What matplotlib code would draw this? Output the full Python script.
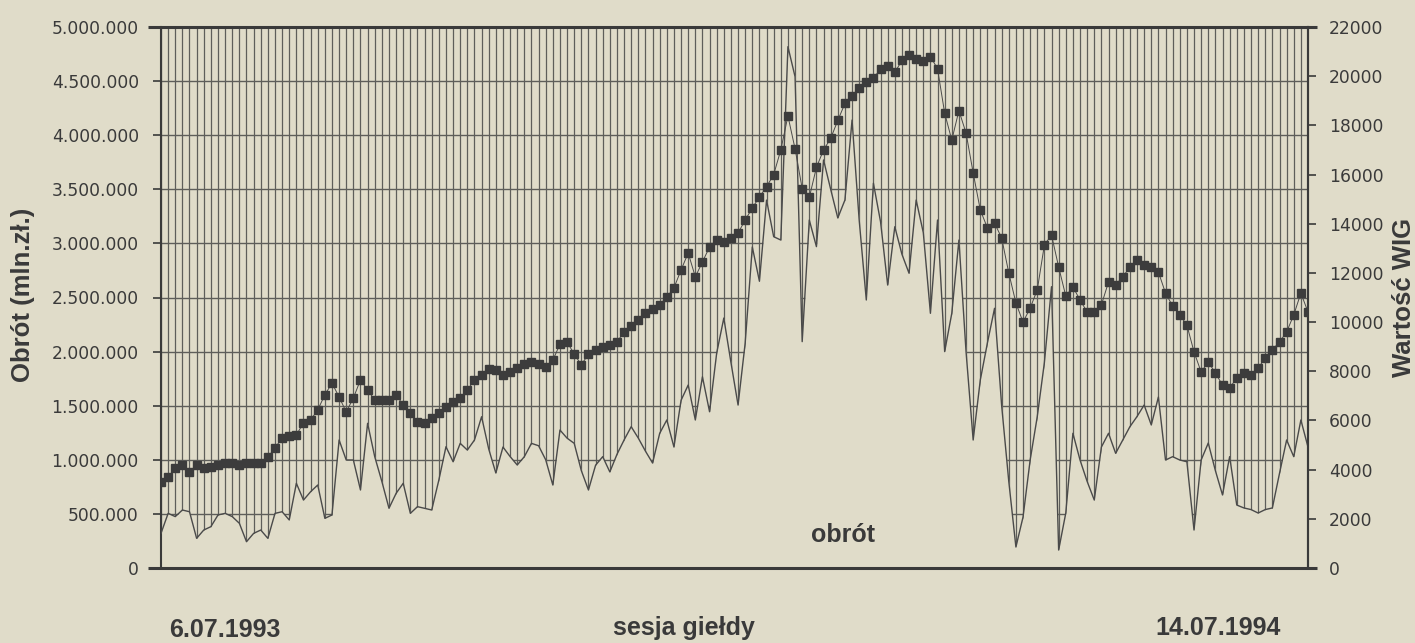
import numpy as np
import matplotlib
matplotlib.use("Agg")
import matplotlib.pyplot as plt

# ---- data ----
wig = [
    3500, 3700, 4070, 4190, 3900, 4190, 4070, 4100, 4190, 4270,
    4270, 4190, 4270, 4270, 4270, 4510, 4880, 5290, 5370, 5410,
    5900, 6020, 6430, 7040, 7520, 6950, 6350, 6910, 7650, 7240,
    6830, 6830, 6830, 7040, 6630, 6300, 5940, 5900, 6100, 6300,
    6550, 6750, 6910, 7240, 7650, 7850, 8100, 8050, 7850, 7970,
    8130, 8300, 8380, 8300, 8180, 8450, 9100, 9190, 8700, 8260,
    8700, 8870, 8990, 9070, 9190, 9600, 9850, 10100, 10370, 10550,
    10700, 11020, 11390, 12120, 12810, 11840, 12450, 13055, 13340, 13260,
    13420, 13620, 14150, 14640, 15090, 15500, 16000, 17000, 18380, 17050,
    15430, 15070, 16290, 17000, 17470, 18200, 18890, 19180, 19500, 19750,
    19910, 20300, 20400, 20150, 20640, 20860, 20680, 20620, 20800, 20300,
    18500, 17400, 18600, 17690, 16070, 14560, 13830, 14030, 13420, 12000,
    10780, 10000, 10570, 11310, 13140, 13540, 12240, 11060, 11430, 10900,
    10410, 10410, 10700, 11630, 11510, 11840, 12240, 12530, 12320, 12240,
    12040, 11180, 10650, 10290, 9880, 8790, 7970, 8380, 7930, 7440,
    7320, 7730, 7930, 7850, 8130, 8540, 8870, 9190, 9600, 10290,
    11180, 10410,
]

obrot_tys = [
    320, 505, 475, 536, 520, 274, 351, 382, 490, 505,
    475, 413, 243, 320, 351, 274, 505, 520, 444, 783,
    628, 705, 767, 459, 490, 1183, 998, 998, 721, 1337,
    1029, 800, 552, 690, 783, 505, 567, 552, 536, 813,
    1121, 982, 1152, 1090, 1183, 1398, 1100, 878, 1118, 1030,
    952, 1029, 1152, 1130, 1000, 767, 1275, 1200, 1152, 900,
    721, 950, 1029, 888, 1050, 1183, 1306, 1200, 1080, 970,
    1245, 1368, 1118, 1550, 1691, 1368, 1767, 1444, 1987, 2310,
    1900, 1506, 2080, 2967, 2650, 3400, 3062, 3031, 4818, 4541,
    2092, 3216, 2970, 3771, 3500, 3235, 3401, 4140, 3216, 2477,
    3556, 3200, 2615, 3154, 2900, 2724, 3401, 3100, 2354, 3216,
    2000, 2354, 3031, 2000, 1183, 1737, 2080, 2400, 1500, 800,
    194, 471, 998, 1400, 1900, 2600, 166, 508, 1245, 998,
    800, 628, 1118, 1245, 1060, 1183, 1306, 1400, 1506, 1322,
    1580, 998, 1029, 998, 982, 351, 998, 1155, 900, 675,
    1029, 582, 555, 540, 508, 540, 555, 875, 1183, 1029,
    1368, 1118,
]
obrot = [v * 1000 for v in obrot_tys]  # mln zł

left_ticks = [0, 500000, 1000000, 1500000, 2000000, 2500000, 3000000,
              3500000, 4000000, 4500000, 5000000]
left_labels = ["0", "500.000", "1.000.000", "1.500.000", "2.000.000", "2.500.000",
               "3.000.000", "3.500.000", "4.000.000", "4.500.000", "5.000.000"]
right_ticks = list(range(0, 22001, 2000))
right_labels = [str(t) for t in right_ticks]

# ---- style ----
bg = "#e0dcc9"
ink = "#3a3a3a"
grid_c = "#5e5e5a"
sq_c = "#3c3c3c"

fig = plt.figure(figsize=(14.15, 6.43), dpi=100, facecolor=bg)
L, R, B, T = 161 / 1415, 1308 / 1415, 1 - 568 / 643, 1 - 27 / 643
ax = fig.add_axes([L, B, R - L, T - B])
ax.set_facecolor(bg)

n = len(wig)
x = np.arange(n)
ax.set_xlim(0, n - 1)
ax.set_ylim(0, 5000000)

ax.vlines(x, 0, 5000000, colors=grid_c, lw=0.9, zorder=1)
ax.hlines(left_ticks[1:], 0, n - 1, colors=grid_c, lw=1.0, zorder=1)
ax.fill_between(x, 0, obrot, color=bg, lw=0, zorder=2)
ax.plot(x, obrot, color="#4a4a4a", lw=1.0, zorder=3)

ax.set_xticks([])
ax.set_yticks(left_ticks)
ax.set_yticklabels(left_labels, family="DejaVu Sans", fontsize=12.3, color=ink)
ax.tick_params(axis="y", direction="out", length=6, width=1.2, color=ink, pad=10)

for s in ["left", "right"]:
    ax.spines[s].set_linewidth(1.5)
    ax.spines[s].set_color(ink)
for s in ["top", "bottom"]:
    ax.spines[s].set_visible(False)

# extended top / bottom frame lines
x0, x1 = (148 - 161) / 1147, (1317 - 161) / 1147
ax.plot([x0, x1], [0, 0], transform=ax.transAxes, color=ink, lw=2.2,
        clip_on=False, zorder=6, solid_capstyle="butt")
ax.plot([x0, x1], [1, 1], transform=ax.transAxes, color=ink, lw=2.2,
        clip_on=False, zorder=6, solid_capstyle="butt")

ax2 = ax.twinx()
ax2.set_ylim(0, 22000)
ax2.plot(x, wig, color="#4a4a4a", lw=0.7, marker="s", ms=6.2,
         mfc=sq_c, mec=sq_c, zorder=5)
ax2.set_yticks(right_ticks)
ax2.set_yticklabels(right_labels, family="DejaVu Sans", fontsize=12.3, color=ink)
ax2.tick_params(axis="y", direction="out", length=6, width=1.2, color=ink, pad=9)
for s in ["top", "bottom", "left"]:
    ax2.spines[s].set_visible(False)
ax2.spines["right"].set_linewidth(1.5)
ax2.spines["right"].set_color(ink)

bold = dict(family="Liberation Sans", fontweight="bold", color=ink)
fig.text(23 / 1415, 1 - 295 / 643, "Obrót (mln.zł.)", rotation=90,
         ha="center", va="center", fontsize=18.5, **bold)
fig.text(1404 / 1415, 1 - 297 / 643, "Wartość WIG", rotation=90,
         ha="center", va="center", fontsize=18.5, **bold)
fig.text(225 / 1415, 1 - 630 / 643, "6.07.1993", ha="center", va="center",
         fontsize=18, **bold)
fig.text(684 / 1415, 1 - 628 / 643, "sesja giełdy", ha="center", va="center",
         fontsize=18, **bold)
fig.text(1218 / 1415, 1 - 628 / 643, "14.07.1994", ha="center", va="center",
         fontsize=18, **bold)
fig.text(843 / 1415, 1 - 535 / 643, "obrót", ha="center", va="center",
         fontsize=18, **bold)

fig.savefig("out.png", dpi=100, facecolor=bg)
